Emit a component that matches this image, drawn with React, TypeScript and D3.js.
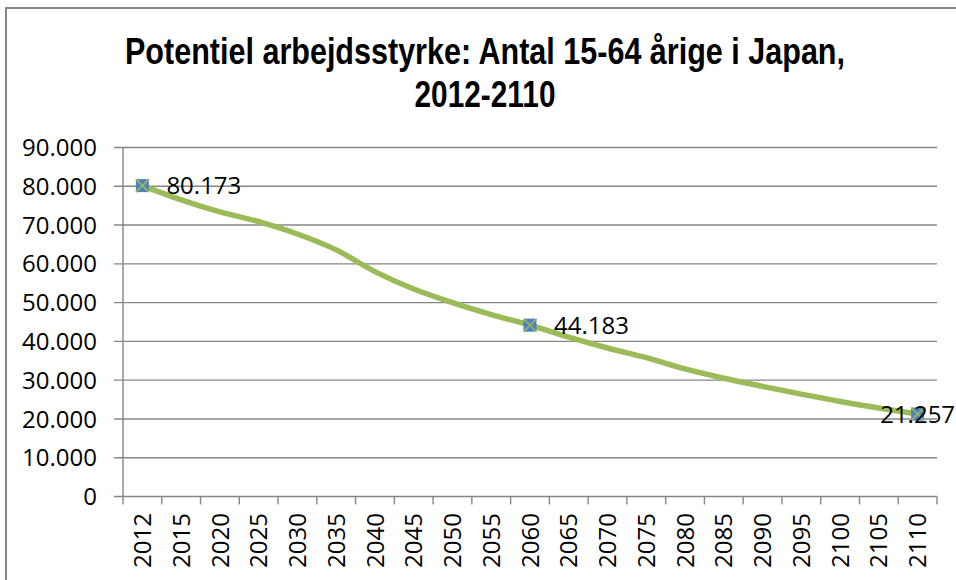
import React, { useEffect, useRef } from 'react';
import * as d3 from 'd3';

// Chart data (thousands of persons aged 15-64)
const years = ['2012', '2015', '2020', '2025', '2030', '2035', '2040', '2045', '2050', '2055', '2060',
  '2065', '2070', '2075', '2080', '2085', '2090', '2095', '2100', '2105', '2110'];
const workforce = [80173, 76500, 73400, 70900, 67700, 63600, 58000, 53500, 50000, 46900, 44183,
  41100, 38300, 35800, 32900, 30500, 28400, 26400, 24500, 22800, 21257];
const labeledYears = ['2012', '2060', '2110'];
const yTicks = [0, 10000, 20000, 30000, 40000, 50000, 60000, 70000, 80000, 90000];
const titleLines = ['Potentiel arbejdsstyrke: Antal 15-64 årige i Japan,', '2012-2110'];

const fmt = (v: number) => d3.format(',')(v).replace(/,/g, '.');

const App: React.FC = () => {
  const svgRef = useRef<SVGSVGElement>(null);

  useEffect(() => {
    const svg = d3.select(svgRef.current);
    svg.selectAll('*').remove();

    const width = 956;
    const height = 580;
    const grey = '#868686';
    const green = '#9BBB59';
    const blue = '#4F81BD';
    const bodyFont = '"Open Sans", "Liberation Sans", sans-serif';
    const bodySize = '24px';

    svg.attr('width', width).attr('height', height);

    // Chart frame
    svg.append('rect')
      .attr('x', 6).attr('y', 8)
      .attr('width', 980).attr('height', 600)
      .attr('fill', 'white')
      .attr('stroke', grey)
      .attr('stroke-width', 2);

    // Title
    const titleWidths = [720, 141];
    titleLines.forEach((line, i) => {
      svg.append('text')
        .attr('x', 485)
        .attr('y', 63.5 + i * 43)
        .attr('text-anchor', 'middle')
        .attr('textLength', titleWidths[i])
        .attr('lengthAdjust', 'spacingAndGlyphs')
        .style('font-family', '"Liberation Sans Narrow", "Liberation Sans", Arial, sans-serif')
        .style('font-weight', 'bold')
        .style('font-size', '36px')
        .style('fill', '#000')
        .text(line);
    });

    // Scales
    const x = d3.scaleBand<string>()
      .domain(years)
      .range([123, 937])
      .padding(0);

    const y = d3.scaleLinear()
      .domain([0, 90000])
      .range([496.5, 147.5]);

    const data = years.map((yr, i) => ({ year: yr, value: workforce[i] }));
    const cx = (yr: string) => (x(yr) || 0) + x.bandwidth() / 2;

    // Gridlines + y ticks
    const yAxis = svg.append('g');
    yTicks.forEach(t => {
      yAxis.append('line')
        .attr('x1', 114).attr('x2', 937)
        .attr('y1', y(t)).attr('y2', y(t))
        .attr('stroke', grey)
        .attr('stroke-width', 1.4);
      yAxis.append('text')
        .attr('x', 97)
        .attr('y', y(t))
        .attr('dy', '0.36em')
        .attr('text-anchor', 'end')
        .style('font-family', bodyFont)
        .style('font-size', bodySize)
        .style('fill', '#000')
        .text(fmt(t));
    });

    // Y axis line
    svg.append('line')
      .attr('x1', 123).attr('x2', 123)
      .attr('y1', y(90000)).attr('y2', y(0))
      .attr('stroke', grey)
      .attr('stroke-width', 1.4);

    // X ticks at category boundaries
    const boundaries = years.map(yr => x(yr) || 0).concat([x.range()[1]]);
    boundaries.forEach(bx => {
      svg.append('line')
        .attr('x1', bx).attr('x2', bx)
        .attr('y1', y(0)).attr('y2', y(0) + 8)
        .attr('stroke', grey)
        .attr('stroke-width', 1.4);
    });

    // X labels
    years.forEach(yr => {
      svg.append('text')
        .attr('transform', `translate(${cx(yr)},${513}) rotate(-90)`)
        .attr('text-anchor', 'end')
        .attr('dy', '0.36em')
        .style('font-family', bodyFont)
        .style('font-size', bodySize)
        .style('fill', '#000')
        .text(yr);
    });

    // Series line
    const line = d3.line<{ year: string; value: number }>()
      .x(d => cx(d.year))
      .y(d => y(d.value))
      .curve(d3.curveCatmullRom.alpha(0.5));

    svg.append('path')
      .datum(data)
      .attr('d', line)
      .attr('fill', 'none')
      .attr('stroke', green)
      .attr('stroke-width', 5.5)
      .attr('stroke-linecap', 'round');

    // Markers and data labels
    const labeled = data.filter(d => labeledYears.includes(d.year));
    labeled.forEach((d, i) => {
      const px = cx(d.year);
      const py = y(d.value);
      const s = 6.5;
      svg.append('rect')
        .attr('x', px - s).attr('y', py - s)
        .attr('width', s * 2).attr('height', s * 2)
        .attr('fill', blue);
      svg.append('path')
        .attr('d', `M${px - s},${py - s}L${px + s},${py + s}M${px - s},${py + s}L${px + s},${py - s}`)
        .attr('stroke', green)
        .attr('stroke-width', 1.5);

      const last = i === labeled.length - 1;
      svg.append('text')
        .attr('x', last ? px : px + 24)
        .attr('y', py)
        .attr('dy', '0.36em')
        .attr('text-anchor', last ? 'middle' : 'start')
        .style('font-family', bodyFont)
        .style('font-size', bodySize)
        .style('fill', '#000')
        .text(fmt(d.value));
    });
  }, []);

  return (
    <svg
      ref={svgRef}
      style={{ position: 'absolute', left: 0, top: 0, display: 'block' }}
    />
  );
};

export default App;
